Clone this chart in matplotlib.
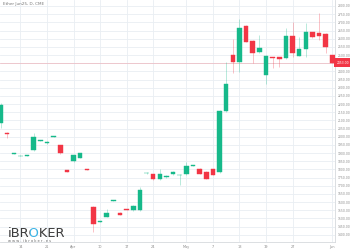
import matplotlib
matplotlib.use("Agg")
from matplotlib import pyplot as plt
from matplotlib.font_manager import FontProperties
from matplotlib.transforms import Bbox

# daily candles, Ether Jun25 (CME)
opens = [2084, 2025, 1897, 1882, 1885, 1919, 1974, 1961, 2001, 1949,
         1796, 1851, 1872, 1802, 1570, 1479, 1510, 1609, 1535, 1557,
         1551, 1551, 1775, 1770, 1741, 1752, 1770, 1764, 1770, 1821,
         1804, 1786, 1801, 1782, 2157, 2500, 2459, 2678, 2586, 2517,
         2378, 2487, 2486, 2480, 2616, 2494, 2535, 2639, 2637, 2629,
         2500]
closes = [2194, 2015, 1900, 1885, 1888, 2000, 1977, 1970, 2004, 1899,
          1784, 1886, 1899, 1799, 1468, 1482, 1531, 1612, 1523, 1554,
          1578, 1674, 1778, 1741, 1770, 1761, 1786, 1767, 1823, 1824,
          1772, 1743, 1768, 2159, 2321, 2459, 2664, 2582, 2514, 2545,
          2496, 2484, 2478, 2618, 2511, 2535, 2643, 2608, 2616, 2551,
          2453]
highs = [2206, 2030, 1903, 1888, 1891, 2025, 1980, 1973, 2007, 1952,
         1799, 1890, 1902, 1804, 1575, 1485, 1558, 1615, 1537, 1560,
         1581, 1694, 1781, 1773, 1801, 1764, 1789, 1772, 1847, 1827,
         1807, 1789, 1803, 2162, 2459, 2596, 2719, 2681, 2589, 2623,
         2499, 2490, 2489, 2664, 2704, 2608, 2694, 2642, 2759, 2632,
         2503]
lows = [2053, 1992, 1894, 1879, 1882, 1914, 1971, 1958, 1998, 1896,
        1781, 1848, 1869, 1796, 1419, 1476, 1506, 1606, 1520, 1551,
        1548, 1548, 1772, 1738, 1738, 1749, 1767, 1705, 1767, 1818,
        1769, 1740, 1765, 1779, 2154, 2392, 2398, 2578, 2453, 2514,
        2321, 2419, 2429, 2477, 2490, 2491, 2490, 2605, 2592, 2511,
        2450]
last_price = 2453

tick_idx = [3, 7, 11, 15, 19, 23, 28, 32, 36, 40, 44, 50]
tick_lbl = ["14", "21", "Apr", "10", "17", "24", "May", "7", "13", "19", "27", "Jun"]
y_ticks = list(range(1400, 2801, 50))

UP = "#16b98a"
DOWN = "#f23645"
GRID = "#e9eef3"
TXT = "#8a8a8a"

fig = plt.figure(figsize=(3.5, 2.5), dpi=100)
ax = fig.add_axes([0, 8 / 250, 335 / 350, 242 / 250])

n = len(opens)
xs = list(range(n))
cols = [UP if c >= o else DOWN for o, c in zip(opens, closes)]
bottoms = [min(o, c) for o, c in zip(opens, closes)]
heights = [max(abs(c - o), 3) for o, c in zip(opens, closes)]

ax.vlines(xs, lows, highs, colors=cols, linewidth=0.6, alpha=0.35, zorder=2)
ax.bar(xs, heights, bottom=bottoms, width=0.68, color=cols,
       edgecolor=cols, linewidth=0.3, zorder=3)

ax.axhline(last_price, color=DOWN, linewidth=0.5, alpha=0.3, zorder=1)

ax.set_xlim(-0.08, 50.4)
ax.set_ylim(1355.6, 2836.7)

ax.set_xticks(tick_idx)
ax.set_xticklabels(tick_lbl)
ax.set_yticks(y_ticks)
ax.set_yticklabels([f"{v:.2f}" for v in y_ticks])
ax.yaxis.tick_right()
ax.tick_params(axis="y", length=0, pad=2, labelsize=2.2, labelcolor=TXT)
ax.tick_params(axis="x", length=0, pad=2.5, labelsize=2.5, labelcolor=TXT)
ax.grid(True, color=GRID, linewidth=0.6, zorder=0)
ax.set_axisbelow(True)

for s in ["top", "left"]:
    ax.spines[s].set_visible(False)
for s in ["right", "bottom"]:
    ax.spines[s].set_color("#d6d9dd")
    ax.spines[s].set_linewidth(0.6)

# current price tag on the axis
ax.annotate(f"{last_price:.2f}", xy=(1, last_price), xycoords=("axes fraction", "data"),
            xytext=(1.0, 0), textcoords="offset points", ha="left", va="center",
            fontsize=2.2, color="white",
            bbox=dict(boxstyle="square,pad=0.9", fc=DOWN, ec="none"),
            annotation_clip=False)

fig.text(3 / 350, 1 - 4 / 250, "Ether Jun25, D, CME", fontsize=3, color="#777777",
         ha="left", va="center")

# logo: whole word drawn twice, each copy clipped to its own letters
fig.canvas.draw()
r = fig.canvas.get_renderer()
fp = FontProperties(family="DejaVu Sans", size=9.4)


def tw(s):
    return r.get_text_width_height_descent(s, fp, ismath=False)[0]


x0 = 8.0
cut1 = x0 + tw("iBR") + 0.6
cut2 = x0 + tw("iBRO") + 0.6
word = "iBROKER"
parts = [("#3b3b3b", 0, cut1), ("#3db4e5", cut1, cut2), ("#3b3b3b", cut2, 120)]
for col, a, b in parts:
    t = fig.text(x0 / 350, 1 - 237 / 250, word, fontproperties=fp, color=col,
                 ha="left", va="baseline")
    t.set_clip_on(True)
    t.set_clip_box(Bbox.from_extents(a, 0, b, 250))
fig.text(8 / 350, 1 - 241.5 / 250, "w w w . i b r o k e r . e s", fontsize=2.6,
         color="#666666", ha="left", va="center")

fig.savefig("out.png", dpi=100)
